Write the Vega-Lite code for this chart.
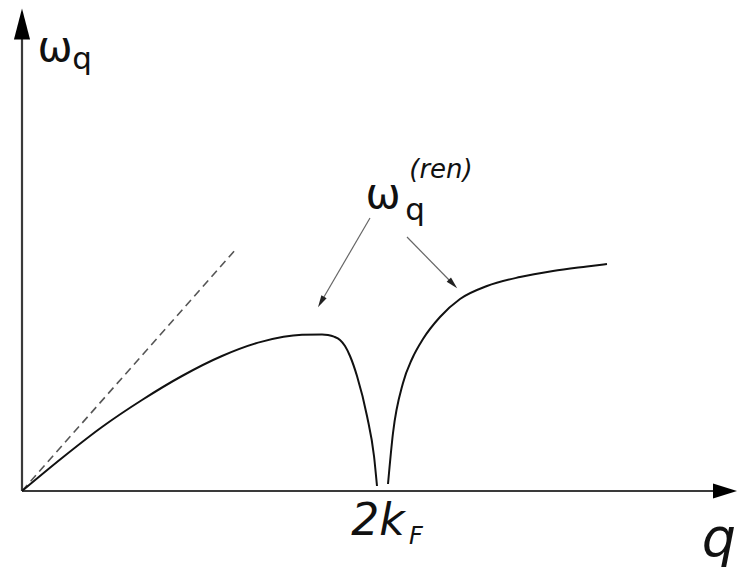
{
  "$schema": "https://vega.github.io/schema/vega-lite/v6.json",
  "autosize": {"type": "fit", "contains": "padding"},
  "width": 737,
  "height": 569,
  "padding": 0,
  "background": "white",
  "config": {"view": {"stroke": null}},
  "datasets": {
    "axes": [
      {"seg": "yaxis", "x": 0, "y": 0},
      {"seg": "yaxis", "x": 0, "y": 452},
      {"seg": "xaxis", "x": 0, "y": 0},
      {"seg": "xaxis", "x": 692, "y": 0}
    ],
    "ytip": [{"x": 0, "y": 467}],
    "xtip": [{"x": 703, "y": 0}],
    "curve": [
      {"branch": "low", "x": 0, "y": 0},
      {"branch": "low", "x": 40, "y": 33},
      {"branch": "low", "x": 80, "y": 64},
      {"branch": "low", "x": 120, "y": 91},
      {"branch": "low", "x": 160, "y": 115},
      {"branch": "low", "x": 200, "y": 135},
      {"branch": "low", "x": 240, "y": 149.4},
      {"branch": "low", "x": 280, "y": 156.2},
      {"branch": "low", "x": 300, "y": 156.6},
      {"branch": "low", "x": 306, "y": 156},
      {"branch": "low", "x": 312, "y": 154.3},
      {"branch": "low", "x": 318, "y": 151},
      {"branch": "low", "x": 323, "y": 145},
      {"branch": "low", "x": 328, "y": 135},
      {"branch": "low", "x": 335, "y": 115},
      {"branch": "low", "x": 345, "y": 75},
      {"branch": "low", "x": 352, "y": 35},
      {"branch": "low", "x": 355, "y": 5},
      {"branch": "high", "x": 366, "y": 7},
      {"branch": "high", "x": 371, "y": 58},
      {"branch": "high", "x": 381, "y": 108},
      {"branch": "high", "x": 390, "y": 132},
      {"branch": "high", "x": 401, "y": 152},
      {"branch": "high", "x": 418, "y": 174},
      {"branch": "high", "x": 438, "y": 192},
      {"branch": "high", "x": 465, "y": 205},
      {"branch": "high", "x": 498, "y": 214},
      {"branch": "high", "x": 531, "y": 220},
      {"branch": "high", "x": 565, "y": 224.5},
      {"branch": "high", "x": 585, "y": 227}
    ],
    "dashed": [
      {"x": 0, "y": 0},
      {"x": 215, "y": 243}
    ],
    "pointers": [
      {"arrow": "left", "x": 348, "y": 273},
      {"arrow": "left", "x": 299, "y": 189},
      {"arrow": "right", "x": 385, "y": 254},
      {"arrow": "right", "x": 431, "y": 207}
    ],
    "lefthead": [{"x": 299, "y": 189}],
    "righthead": [{"x": 431, "y": 207}],
    "omega": [
      {"t": "ω", "x": 33, "y": 443},
      {"t": "ω", "x": 361, "y": 296}
    ],
    "subq": [
      {"t": "q", "x": 60, "y": 431},
      {"t": "q", "x": 393, "y": 280}
    ],
    "ren": [{"t": "(ren)", "x": 419, "y": 321}],
    "twok": [{"t": "2k", "x": 356, "y": -31}],
    "subF": [{"t": "F", "x": 394, "y": -46}],
    "bigq": [{"t": "q", "x": 697, "y": -49}]
  },
  "encoding": {
    "x": {"field": "x", "type": "quantitative", "scale": {"domain": [-22, 715], "nice": false, "zero": false}, "axis": null},
    "y": {"field": "y", "type": "quantitative", "scale": {"domain": [-78, 491], "nice": false, "zero": false}, "axis": null}
  },
  "layer": [
    {"data": {"name": "axes"}, "mark": {"type": "line", "stroke": "#3a3a3a", "strokeWidth": 2.2}, "encoding": {"detail": {"field": "seg"}}},
    {"data": {"name": "ytip"}, "mark": {"type": "point", "shape": "M0,-1L0.52,1L-0.52,1Z", "size": 961, "filled": true, "fill": "black", "stroke": null, "opacity": 1}},
    {"data": {"name": "xtip"}, "mark": {"type": "point", "shape": "M1,0L-1,0.62L-1,-0.62Z", "size": 576, "filled": true, "fill": "black", "stroke": null, "opacity": 1}},
    {"data": {"name": "dashed"}, "mark": {"type": "line", "stroke": "#555555", "strokeWidth": 1.6, "strokeDash": [8, 5]}},
    {"data": {"name": "curve"}, "mark": {"type": "line", "stroke": "#111111", "strokeWidth": 2, "interpolate": "monotone"}, "encoding": {"detail": {"field": "branch"}}},
    {"data": {"name": "pointers"}, "mark": {"type": "line", "stroke": "#666666", "strokeWidth": 1.2}, "encoding": {"detail": {"field": "arrow"}}},
    {"data": {"name": "lefthead"}, "mark": {"type": "point", "shape": "M0,-1L0.5,1L-0.5,1Z", "size": 144, "angle": 210, "filled": true, "fill": "#222222", "stroke": null, "opacity": 1}},
    {"data": {"name": "righthead"}, "mark": {"type": "point", "shape": "M0,-1L0.5,1L-0.5,1Z", "size": 144, "angle": 136, "filled": true, "fill": "#222222", "stroke": null, "opacity": 1}},
    {"data": {"name": "omega"}, "mark": {"type": "text", "font": "DejaVu Sans", "fontSize": 42, "align": "center", "baseline": "middle", "color": "#111111"}, "encoding": {"text": {"field": "t"}}},
    {"data": {"name": "subq"}, "mark": {"type": "text", "font": "DejaVu Sans", "fontSize": 31, "align": "center", "baseline": "middle", "color": "#111111"}, "encoding": {"text": {"field": "t"}}},
    {"data": {"name": "ren"}, "mark": {"type": "text", "font": "DejaVu Sans", "fontSize": 26, "fontStyle": "italic", "align": "center", "baseline": "middle", "color": "#111111"}, "encoding": {"text": {"field": "t"}}},
    {"data": {"name": "twok"}, "mark": {"type": "text", "font": "DejaVu Sans", "fontSize": 44, "fontStyle": "italic", "align": "center", "baseline": "middle", "color": "#111111"}, "encoding": {"text": {"field": "t"}}},
    {"data": {"name": "subF"}, "mark": {"type": "text", "font": "DejaVu Sans", "fontSize": 24, "fontStyle": "italic", "align": "center", "baseline": "middle", "color": "#111111"}, "encoding": {"text": {"field": "t"}}},
    {"data": {"name": "bigq"}, "mark": {"type": "text", "font": "DejaVu Sans", "fontSize": 54, "fontStyle": "italic", "align": "center", "baseline": "middle", "color": "#111111"}, "encoding": {"text": {"field": "t"}}}
  ]
}
